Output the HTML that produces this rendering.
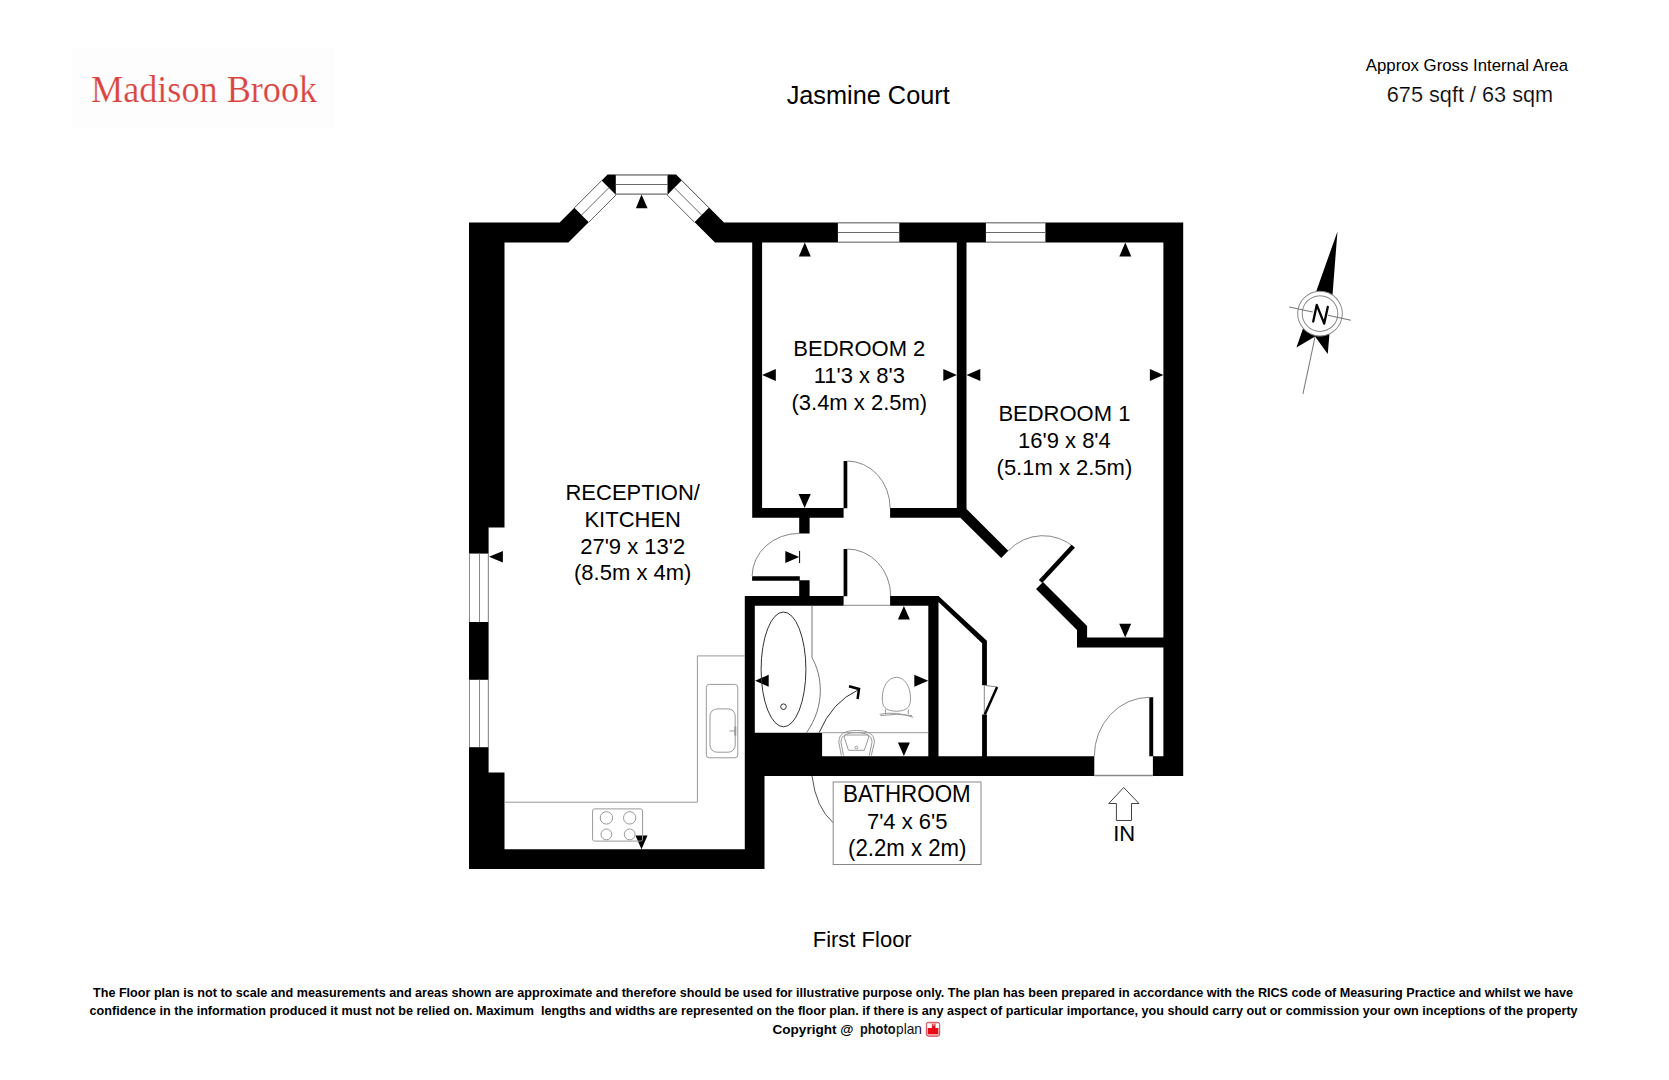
<!DOCTYPE html>
<html><head><meta charset="utf-8">
<style>
html,body{margin:0;padding:0;background:#fff;}
body{width:1669px;height:1080px;overflow:hidden;position:relative;font-family:"Liberation Sans",sans-serif;}
svg{position:absolute;left:0;top:0;}
text{font-family:"Liberation Sans",sans-serif;}
</style></head>
<body>
<svg width="1669" height="1080" viewBox="0 0 1669 1080">
<!-- logo box -->
<rect x="72" y="48" width="263" height="80" fill="#fefdfd"/>
<text x="91" y="102.3" style="font-family:'Liberation Serif',serif" font-size="38.5" fill="#d8443f" stroke="#fefdfd" stroke-width="0.25" transform="translate(91 0) scale(0.94 1) translate(-91 0)">Madison Brook</text>

<!-- header -->
<text x="868.2" y="104.1" font-size="25.3" text-anchor="middle" fill="#000">Jasmine Court</text>
<text x="1467" y="71.1" font-size="16.8" text-anchor="middle" fill="#000">Approx Gross Internal Area</text>
<text x="1470" y="101.8" font-size="21.7" text-anchor="middle" fill="#000" stroke="#fff" stroke-width="0.2">675 sqft / 63 sqm</text>

<!-- WALLS -->
<path fill="#000" d="M469.00,222.50 L559.70,222.50 L607.60,174.60 L676.10,174.60 L724.00,222.50 L1183.20,222.50 L1183.20,242.60 L715.00,242.60 L666.90,194.50 L616.50,194.50 L568.40,242.60 L469.00,242.60ZM469.00,222.50H504.50V527.40H469.00ZM469.00,527.00H488.60V773.00H469.00ZM469.00,772.40H504.50V869.00H469.00ZM469.00,849.30H764.50V869.00H469.00ZM744.80,756.20H764.50V869.00H744.80ZM752.20,242.60H762.10V517.80H752.20ZM752.20,507.90H843.60V517.80H752.20ZM843.60,461.00H847.30V508.20H843.60ZM890.10,507.90H960.10V517.80H890.10ZM956.80,242.60 L966.50,242.60 L966.50,509.00 L1008.30,550.80 L1001.20,557.90 L960.30,517.80 L956.80,517.80ZM1043.00,582.00 L1087.10,626.10 L1087.10,637.50 L1163.40,637.50 L1163.40,647.50 L1077.00,647.50 L1077.00,630.00 L1036.00,589.00ZM1163.40,222.50H1183.20V776.10H1163.40ZM744.80,756.20H1094.30V776.10H744.80ZM1152.90,756.20H1183.20V776.10H1152.90ZM1149.30,697.30H1153.20V756.30H1149.30ZM744.80,595.90H754.80V756.20H744.80ZM744.80,595.90H843.60V605.70H744.80ZM890.10,595.90H938.50V605.70H890.10ZM843.60,549.00H847.30V596.20H843.60ZM928.30,595.90H938.50V756.20H928.30ZM754.80,732.70H822.10V756.20H754.80ZM799.20,517.80H809.60V533.40H799.20ZM799.20,580.30H809.60V595.90H799.20ZM752.10,576.20H799.80V580.80H752.10ZM938.50,596.10 L986.90,640.70 L986.90,685.30 L982.10,685.30 L982.10,643.30 L938.50,602.10ZM982.10,714.40H986.90V756.30H982.10Z"/>

<!-- WINDOWS -->
<g fill="#fff" stroke="#555" stroke-width="1">
<rect x="615.8" y="174.6" width="51.7" height="19.9" stroke="none"/>
<polygon points="601.6,180.6 616,195 588.75,222.25 574.35,207.85" stroke="none"/>
<polygon points="681.6,180.6 667.2,195 694.45,222.25 708.85,207.85" stroke="none"/>
<rect x="837.9" y="222.5" width="61.4" height="20.1" stroke="none"/>
<rect x="985.9" y="222.5" width="59.5" height="20.1" stroke="none"/>
<rect x="469" y="553.6" width="19.6" height="68.4" stroke="none"/>
<rect x="469" y="679.8" width="19.6" height="67.4" stroke="none"/>
</g>
<g fill="none" stroke="#6a6a6a" stroke-width="1">
<path d="M615.8,175.1H667.5M615.8,184.5H667.5M615.8,194H667.5"/>
<path d="M601.6,180.6L574.35,207.85M608.8,187.8L581.55,215.05M616,195L588.75,222.25"/>
<path d="M681.6,180.6L708.85,207.85M674.4,187.8L701.65,215.05M667.2,195L694.45,222.25"/>
<path d="M837.9,222.9H899.3M837.9,232.5H899.3M837.9,242.1H899.3"/>
<path d="M985.9,222.9H1045.4M985.9,232.5H1045.4M985.9,242.1H1045.4"/>
</g>
<g fill="none" stroke="#8a8a8a" stroke-width="1">
<path d="M469.5,553.6V622M479.5,553.6V622M488.3,553.6V622"/>
<path d="M469.5,679.8V747.2M479.5,679.8V747.2M488.3,679.8V747.2"/>
</g>

<!-- ARROWS -->
<g fill="#000">
<polygon points="641.5,194.5 647.6,208.3 635.9,208.3"/>
<polygon points="804.8,242.6 810.8,256.5 798.8,256.5"/>
<polygon points="1125.3,242.6 1131.3,256.5 1119.3,256.5"/>
<polygon points="762.1,375 775.8,369 775.8,381"/>
<polygon points="956.8,375 943.3,369 943.3,381"/>
<polygon points="966.5,375 980.3,369 980.3,381"/>
<polygon points="1163.4,375 1149.9,369 1149.9,381"/>
<polygon points="804.6,507.9 810.8,494 798.6,494"/>
<polygon points="1125.2,637.5 1131.2,623.7 1119.2,623.7"/>
<polygon points="489,556.7 502.9,551 502.9,562.6"/>
<polygon points="641.5,849.3 647.5,835.6 635.5,835.6"/>
<polygon points="799.2,557 785.3,551.1 785.3,562.9"/>
<polygon points="755.1,680.8 768.7,674.8 768.7,686.8"/>
<polygon points="928.3,680.8 914.3,674.8 914.3,686.8"/>
<polygon points="903.9,605.9 909.9,619.6 897.9,619.6"/>
<polygon points="903.9,756 909.9,742.6 897.9,742.6"/>
</g>
<path d="M799.6,551V563" stroke="#000" stroke-width="1"/>

<!-- DOOR ARCS -->
<g fill="none" stroke="#888" stroke-width="1">
<path d="M847.3,461 A43,47 0 0 1 890.1,507.9"/>
<path d="M847.3,549 A43.4,47 0 0 1 890.7,595.9"/>
<path d="M799.2,533.4 A47,43 0 0 0 752.1,576.2"/>
<path d="M1075,548 A47.5,47.5 0 0 0 1008.3,550.8"/>
<path d="M1149.3,697.3 A55,59 0 0 0 1094.3,756.2"/>
<path d="M843.6,605.3H890.1"/>
<path d="M1094.3,775.6H1152.9" stroke-width="1.5"/>
<path d="M984.3,685.3V714.4"/>
<path d="M984.3,685.3L997.1,687"/>
<path d="M812,776 Q816,808 833.2,822.8" stroke="#555"/>
</g>
<!-- bedroom1 door leaf -->
<path d="M1073.2,546.2 L1040.5,581.5" stroke="#000" stroke-width="4.5" fill="none"/>
<!-- cupboard bifold -->
<path d="M997.1,687 L984.8,714.4" stroke="#000" stroke-width="2.5" fill="none"/>

<!-- KITCHEN -->
<g fill="none" stroke="#999" stroke-width="1">
<path d="M745,655.9H697.4V802.2H504.5"/>
<rect x="706.3" y="684.4" width="31.5" height="73.4" rx="3"/>
<rect x="710" y="708.9" width="25.2" height="43.3" rx="7"/>
<path d="M729.5,731H735"/><path d="M735.3,726.5V735.5" stroke-width="2"/>
<rect x="592.6" y="808.9" width="50" height="32.2" rx="2"/>
<circle cx="606.4" cy="817.9" r="6.2"/>
<circle cx="629.7" cy="817.9" r="6.2"/>
<circle cx="606.4" cy="834.4" r="5.4"/>
<circle cx="629.7" cy="834.4" r="5.4"/>
</g>

<!-- BATHROOM FIXTURES -->
<g fill="none" stroke="#333" stroke-width="1">
<ellipse cx="783.5" cy="669.4" rx="22.4" ry="57.4"/>
<circle cx="783.5" cy="706.7" r="2.8"/>
<path d="M812,605.9V657.8C822,675 826,705 806.5,732.7" stroke="#777"/>
<path d="M819.1,732.7Q832,702 858,690"/>
<path d="M849,686.3L859,689L857.6,699" stroke="#000" stroke-width="2.5"/>
</g>
<g fill="none" stroke="#999" stroke-width="1">
<path d="M896.4,677.3 C905,677.3 910.5,687 910.5,698 C910.5,707 908,710.5 896.4,711.3 C884.8,710.5 882.3,707 882.3,698 C882.3,687 887.8,677.3 896.4,677.3Z"/>
<path d="M885.4,709.3V714.3M908.3,709.3V714.3"/>
<path d="M879.7,714.3 Q896.4,711 913.1,717.3"/>
<path d="M880.5,715.6 Q896.4,713 912,715.6"/>
<path d="M822.1,732.7H928.3"/>
<path d="M841.4,755.6 L838.8,742.4 C838.8,733 846,730.5 856.4,730.5 C866.8,730.5 874.4,733 874.4,742.4 L871.3,755.6"/>
<path d="M843.5,755.6 L841,742.4 C841,735 847,732.6 856.4,732.6 C865.8,732.6 872,735 872,742.4 L869.3,755.6"/>
<path d="M846,735 H867 Q869.2,735 868.6,737.5 L864.3,750.3 H848.5 L844.3,737.5 Q843.8,735 846,735Z"/>
<circle cx="856.4" cy="747.6" r="1.4"/>
</g>

<!-- ROOM LABELS -->
<g fill="#000" text-anchor="middle">
<text transform="translate(632.7 499.6) scale(1 1.045)" font-size="22">RECEPTION/</text>
<text transform="translate(632.7 526.8) scale(1 1.045)" font-size="22">KITCHEN</text>
<text transform="translate(632.7 553.8) scale(1 1.045)" font-size="22">27'9 x 13'2</text>
<text transform="translate(632.7 580.4) scale(1 1.045)" font-size="22">(8.5m x 4m)</text>
<text transform="translate(859.3 356.1) scale(1 1.045)" font-size="22">BEDROOM 2</text>
<text transform="translate(859.3 383) scale(1 1.045)" font-size="22">11'3 x 8'3</text>
<text transform="translate(859.3 409.5) scale(1 1.045)" font-size="22">(3.4m x 2.5m)</text>
<text transform="translate(1064.4 421.1) scale(1 1.045)" font-size="22">BEDROOM 1</text>
<text transform="translate(1064.4 448) scale(1 1.045)" font-size="22">16'9 x 8'4</text>
<text transform="translate(1064.4 474.5) scale(1 1.045)" font-size="22">(5.1m x 2.5m)</text>
</g>
<rect x="833.2" y="782" width="147.8" height="82.5" fill="#fff" stroke="#888" stroke-width="1"/>
<g fill="#000" text-anchor="middle">
<text transform="translate(906.9 801.8) scale(1 1.045)" font-size="22.4">BATHROOM</text>
<text transform="translate(907.2 828.7) scale(1 1.045)" font-size="22">7'4 x 6'5</text>
<text transform="translate(907.2 855.8) scale(1 1.045)" font-size="22.2">(2.2m x 2m)</text>
<text transform="translate(1124.2 840.6) scale(1 1.045)" font-size="22">IN</text>
<text transform="translate(862.2 947) scale(1 1.045)" font-size="22">First Floor</text>
</g>
<!-- IN arrow -->
<polygon points="1123.7,787.5 1139,803.5 1131.5,803.5 1131.5,820.5 1116.4,820.5 1116.4,803.5 1108.75,803.5" fill="none" stroke="#444" stroke-width="1"/>

<!-- COMPASS -->
<g transform="translate(1320,313.6) rotate(12)">
<polygon points="0,-84 14,22 16,38 0,23.5 -16,38 -14,22" fill="#000"/>
<line x1="0" y1="23.5" x2="0" y2="82" stroke="#777" stroke-width="1"/>
<circle r="22.3" fill="#fff" stroke="#888" stroke-width="1"/>
<circle r="17.8" fill="none" stroke="#888" stroke-width="1"/>
<path d="M-31.5,0H-7.4M8.1,0H31.5" stroke="#777" stroke-width="1" fill="none"/>
<path d="M-5,9.1V-7.8L6.2,8.9V-8.1" stroke="#000" stroke-width="2.3" stroke-linecap="round" stroke-linejoin="round" fill="none"/>
</g>

<!-- FOOTER -->
<g font-size="12.6" font-weight="bold" fill="#000">
<text x="93" y="996.8" textLength="1480" lengthAdjust="spacingAndGlyphs">The Floor plan is not to scale and measurements and areas shown are approximate and therefore should be used for illustrative purpose only. The plan has been prepared in accordance with the RICS code of Measuring Practice and whilst we have</text>
<text x="89.6" y="1015.4" textLength="1488" lengthAdjust="spacingAndGlyphs" xml:space="preserve">confidence in the information produced it must not be relied on. Maximum  lengths and widths are represented on the floor plan. if there is any aspect of particular importance, you should carry out or commission your own inceptions of the property</text>
<text x="772.5" y="1034" font-size="13.5" textLength="81" lengthAdjust="spacingAndGlyphs">Copyright @</text>
</g>
<text x="860" y="1034.2" font-size="14.5" font-weight="bold" fill="#111" textLength="35.5" lengthAdjust="spacingAndGlyphs">photo</text>
<text x="896" y="1034.2" font-size="14.5" fill="#111" textLength="26" lengthAdjust="spacingAndGlyphs">plan</text>
<g>
<rect x="926.3" y="1022.3" width="13.4" height="14" rx="2.2" fill="#f4a0a4" stroke="#c8404a" stroke-width="0.9"/>
<rect x="927.3" y="1023.6" width="4.3" height="4.3" fill="#fff"/>
<rect x="935.8" y="1023.6" width="3.1" height="4.3" fill="#fff"/>
<rect x="928" y="1028" width="10" height="6" fill="#e80a14"/>
<rect x="932.2" y="1024" width="3" height="4.2" fill="#e0061a"/>
<rect x="932.7" y="1024.4" width="2" height="1.1" fill="#fff"/>
</g>
</svg>
</body></html>
